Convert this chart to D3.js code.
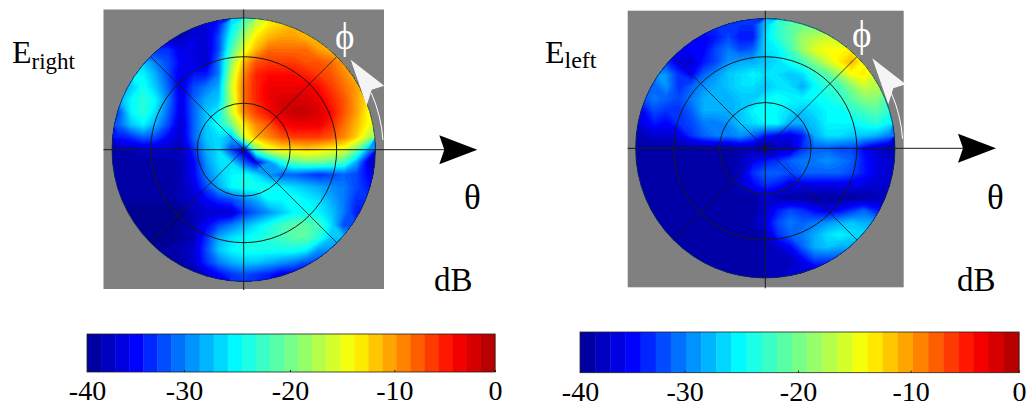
<!DOCTYPE html>
<html>
<head>
<meta charset="utf-8">
<script src="https://cdn.jsdelivr.net/npm/d3@7"></script>
<style>
  html, body { margin: 0; background: #fff; }
  svg { display: block; }
  text { font-family: "Liberation Serif", serif; fill: #000; }
</style>
</head>
<body>
<svg width="1026" height="407"></svg>
<script>
// measured levels in dB, one row per line from the top of the disc, 21 columns left to right
var rightField = [
	[-38,-38,-38,-38,-38,-38,-38,-36,-34,-26,-21,-16,-13,-12,-11,-11,-11,-11,-11,-11,-11],
	[-38,-38,-38,-38,-38,-38,-36,-37,-32,-24,-18,-13,-11,-10,-10,-11,-11,-11,-11,-11,-11],
	[-33,-33,-33,-33,-33,-36,-36,-37,-32,-22,-15,-11, -8, -8, -8, -8,-10,-11,-11,-11,-11],
	[-27,-27,-27,-30,-32,-35,-36,-37,-30,-19,-11, -7, -6, -6, -6, -7, -7, -8,-10,-10,-10],
	[-25,-25,-25,-28,-32,-36,-34,-34,-30,-17, -9, -5, -4, -4, -4, -5, -6, -7, -9,-11,-11],
	[-27,-27,-24,-27,-31,-36,-32,-30,-28,-16, -8, -5, -3, -3, -3, -3, -4, -6, -8,-10,-12],
	[-28,-25,-23,-25,-30,-36,-31,-28,-27,-17, -8, -5, -3, -2, -2, -2, -3, -5, -7,-10,-13],
	[-32,-25,-23,-26,-31,-36,-31,-27,-25,-16, -9, -6, -4, -2, -1, -1, -2, -4, -7,-10,-14],
	[-31,-27,-25,-28,-32,-37,-31,-27,-24,-20,-13, -9, -7, -4, -3, -3, -3, -5, -8,-11,-14],
	[-34,-33,-31,-32,-35,-37,-31,-27,-26,-28,-16,-11, -9, -7, -6, -6, -6, -7, -9,-12,-17],
	[-38,-38,-37,-37,-37,-38,-33,-28,-26,-32,-37,-20,-15,-13,-13,-12,-13,-14,-15,-20,-29],
	[-39,-39,-39,-39,-39,-38,-35,-29,-26,-26,-31,-35,-29,-24,-21,-20,-20,-21,-22,-28,-37],
	[-39,-39,-39,-39,-39,-38,-35,-30,-27,-25,-24,-26,-29,-31,-31,-32,-33,-32,-31,-32,-35],
	[-39,-39,-39,-39,-39,-38,-36,-32,-28,-25,-24,-24,-24,-25,-26,-27,-28,-29,-30,-32,-34],
	[-39,-39,-39,-39,-39,-38,-37,-35,-33,-32,-30,-28,-25,-25,-24,-25,-26,-28,-30,-33,-33],
	[-40,-40,-40,-40,-40,-40,-38,-37,-37,-37,-33,-31,-29,-27,-25,-24,-25,-27,-30,-34,-34],
	[-40,-40,-40,-40,-40,-39,-38,-35,-32,-30,-28,-26,-24,-22,-21,-21,-22,-26,-32,-32,-32],
	[-40,-40,-40,-40,-40,-39,-38,-33,-28,-26,-25,-24,-23,-22,-21,-21,-23,-27,-27,-27,-27],
	[-39,-39,-39,-39,-39,-38,-37,-32,-27,-25,-24,-24,-24,-24,-24,-25,-29,-29,-29,-29,-29],
	[-39,-39,-39,-39,-39,-39,-37,-33,-30,-28,-27,-27,-28,-29,-30,-32,-32,-32,-32,-32,-32],
	[-39,-39,-39,-39,-39,-39,-39,-37,-35,-33,-32,-33,-34,-36,-36,-36,-36,-36,-36,-36,-36]
];

var leftField = [
	[-33,-33,-33,-33,-33,-33,-33,-33,-33,-33,-27,-23,-21,-20,-20,-20,-20,-20,-20,-20,-20],
	[-35,-35,-35,-35,-35,-35,-34,-32,-34,-34,-26,-23,-21,-18,-17,-16,-16,-16,-16,-16,-16],
	[-35,-35,-35,-35,-35,-35,-32,-30,-32,-31,-26,-25,-22,-18,-15,-14,-14,-13,-13,-13,-13],
	[-33,-33,-33,-36,-37,-34,-32,-29,-28,-28,-27,-26,-24,-22,-19,-16,-13,-11,-14,-14,-14],
	[-29,-29,-29,-33,-35,-31,-29,-27,-26,-25,-26,-26,-27,-26,-23,-21,-18,-14,-13,-16,-16],
	[-31,-31,-29,-33,-31,-29,-28,-27,-26,-26,-27,-26,-26,-28,-25,-23,-22,-19,-16,-17,-18],
	[-32,-30,-31,-32,-30,-28,-28,-28,-27,-27,-25,-24,-25,-25,-25,-24,-23,-21,-19,-19,-22],
	[-35,-32,-33,-33,-31,-28,-28,-28,-27,-25,-25,-25,-26,-27,-26,-25,-25,-23,-22,-21,-23],
	[-36,-34,-35,-33,-32,-30,-30,-29,-27,-26,-25,-25,-28,-28,-27,-25,-25,-25,-24,-23,-25],
	[-38,-37,-37,-36,-33,-31,-30,-30,-29,-31,-34,-35,-36,-34,-28,-26,-26,-27,-27,-28,-30],
	[-39,-39,-39,-39,-39,-39,-39,-39,-38,-38,-40,-38,-38,-33,-31,-31,-32,-32,-35,-37,-38],
	[-39,-39,-39,-39,-39,-39,-39,-39,-38,-35,-34,-33,-31,-30,-30,-29,-30,-31,-34,-36,-37],
	[-39,-39,-39,-39,-39,-39,-39,-39,-37,-33,-31,-31,-32,-31,-31,-31,-31,-32,-34,-36,-37],
	[-39,-39,-39,-39,-39,-39,-39,-39,-37,-35,-33,-34,-36,-36,-36,-36,-36,-36,-36,-37,-37],
	[-39,-39,-39,-39,-39,-39,-39,-39,-39,-39,-37,-38,-39,-39,-39,-39,-39,-39,-39,-38,-38],
	[-39,-39,-39,-39,-39,-39,-39,-39,-39,-39,-37,-34,-32,-33,-35,-36,-35,-33,-31,-34,-34],
	[-39,-39,-39,-39,-39,-39,-39,-39,-39,-38,-36,-32,-30,-31,-30,-29,-28,-27,-28,-28,-28],
	[-39,-39,-39,-39,-39,-39,-39,-39,-39,-39,-38,-33,-31,-30,-28,-26,-25,-26,-26,-26,-26],
	[-39,-39,-39,-39,-39,-39,-39,-39,-39,-39,-38,-37,-35,-31,-28,-27,-28,-28,-28,-28,-28],
	[-39,-39,-39,-39,-39,-39,-39,-39,-39,-39,-38,-38,-38,-35,-32,-32,-32,-32,-32,-32,-32],
	[-39,-39,-39,-39,-39,-39,-39,-39,-39,-39,-38,-38,-37,-37,-37,-37,-37,-37,-37,-37,-37]
];

var barTicks = [-40, -30, -20, -10, 0];
var thetaRings = [30, 60];
var phiSpokes = [45, 135, 225, 315];

var jetLevels = [-40, -35, -25, -14, -4, 0];
var jetColors = ["#000090", "#0000ff", "#00ffff", "#ffff00", "#ff0000", "#a80000"];

var color = d3.scaleLinear().domain(jetLevels).range(jetColors).clamp(true);

var svg = d3.select("svg");
var defs = svg.append("defs");

drawPanel({
	id: "right", field: rightField, cx: 243.7, cy: 149.7, R: 131.7,
	box: [103.5, 9.5, 384, 289], arrowX: 477.3, phiX: 335
});
drawPanel({
	id: "left", field: leftField, cx: 765.3, cy: 148.3, R: 129.7,
	box: [627.7, 10.7, 903.7, 287.3], arrowX: 996, phiX: 852
});

drawBar([87, 184, 290, 394.3, 495], 334, 372);
drawBar([580, 684.7, 798, 910.7, 1019], 332, 372.7);

//subscripted field names
label(12, 63, "E", 32).append("tspan").attr("dy", 5.5).attr("font-size", 23).text("right");
label(545, 62.5, "E", 32).append("tspan").attr("dy", 5.5).attr("font-size", 24).text("left");

label(464, 208.5, "θ", 35);
label(987, 208.5, "θ", 35);
label(434, 291, "dB", 33);
label(957, 291, "dB", 33);

function label(x, y, str, size) {
	return svg.append("text").attr("x", x).attr("y", y).attr("font-size", size).text(str);
}

function drawPanel(p) {
	var g = svg.append("g");
	var cx = p.cx, cy = p.cy, R = p.R;

	//gray backing square
	g.append("rect")
		.attr("x", p.box[0]).attr("y", p.box[1])
		.attr("width", p.box[2] - p.box[0]).attr("height", p.box[3] - p.box[1])
		.attr("fill", "#808080");

	var clipId = "disc-" + p.id;
	defs.append("clipPath").attr("id", clipId)
		.append("circle").attr("cx", cx).attr("cy", cy).attr("r", R);

	//filled level sets of the grid, lowest first
	var contours = d3.contours()
		.size([21, 21])
		.thresholds(d3.range(-40, 0.5, 0.5))(p.field.flat());

	var px = d3.scaleLinear().domain([0, 21]).range([cx - R, cx + R]);
	var py = d3.scaleLinear().domain([0, 21]).range([cy - R, cy + R]);
	var path = d3.geoPath(d3.geoTransform({
		point: function(x, y) { this.stream.point(px(x), py(y)); }
	}));

	g.append("g").attr("clip-path", "url(#" + clipId + ")")
		.selectAll("path")
		.data(contours)
		.enter().append("path")
			.attr("d", path)
			.attr("fill", function(d) { return color(d.value); });

	//polar grid
	var theta = d3.scaleLinear().domain([0, 85]).range([0, R]);
	var ink = "#1a1a1a";

	g.selectAll(".ring")
		.data(thetaRings)
		.enter().append("circle")
			.attr("class", "ring")
			.attr("cx", cx).attr("cy", cy)
			.attr("r", function(d) { return theta(d); })
			.attr("fill", "none").attr("stroke", ink).attr("stroke-width", 1);

	g.append("circle")
		.attr("cx", cx).attr("cy", cy).attr("r", R)
		.attr("fill", "none").attr("stroke", "#0b2a55").attr("stroke-width", 0.8);

	g.selectAll(".spoke")
		.data(phiSpokes)
		.enter().append("line")
			.attr("class", "spoke")
			.attr("x1", cx).attr("y1", cy)
			.attr("x2", function(d) { return cx + theta(85) * Math.cos(d * Math.PI / 180); })
			.attr("y2", function(d) { return cy - theta(85) * Math.sin(d * Math.PI / 180); })
			.attr("stroke", ink).attr("stroke-width", 0.8);

	//vertical and horizontal axes run past the disc
	g.append("line")
		.attr("x1", cx).attr("x2", cx).attr("y1", p.box[1]).attr("y2", p.box[3] + 1)
		.attr("stroke", ink).attr("stroke-width", 1);
	g.append("line")
		.attr("x1", p.box[0]).attr("x2", p.arrowX - 30).attr("y1", cy).attr("y2", cy)
		.attr("stroke", ink).attr("stroke-width", 1);

	//theta arrow head
	var tip = p.arrowX;
	g.append("path")
		.attr("d", "M" + (tip - 38) + "," + (cy - 14.5) + "L" + tip + "," + cy +
			"L" + (tip - 38) + "," + (cy + 14.5) + "L" + (tip - 33) + "," + cy + "Z")
		.attr("fill", "#000");

	//phi sweep arrow in white
	var sweep = d3.arc()
		.innerRadius(R + 7.4).outerRadius(R + 8.4)
		.startAngle(66 * Math.PI / 180).endAngle(86 * Math.PI / 180);
	g.append("path")
		.attr("transform", "translate(" + cx + "," + cy + ")")
		.attr("d", sweep())
		.attr("fill", "#fff");
	g.append("path")
		.attr("transform", "translate(" + cx + "," + cy + ")")
		.attr("d", "M107,-90L140.5,-64L128,-60L123,-44Z")
		.attr("fill", "#f4f4f4");

	svg.append("text")
		.attr("x", p.phiX).attr("y", cy - 101)
		.attr("font-size", 37)
		.style("fill", "#fff")
		.text("ϕ");
}

function drawBar(stops, top, bottom) {
	var x = d3.scaleLinear().domain(barTicks).range(stops);
	var n = 29;
	var w = (stops[4] - stops[0]) / n;
	var g = svg.append("g");

	g.selectAll("rect")
		.data(d3.range(n))
		.enter().append("rect")
			.attr("x", function(i) { return stops[0] + i * w; })
			.attr("y", top)
			.attr("width", w + 0.4)
			.attr("height", bottom - top)
			.attr("fill", function(i) { return color(x.invert(stops[0] + (i + 0.5) * w)); });

	g.append("rect")
		.attr("x", stops[0]).attr("y", top)
		.attr("width", stops[4] - stops[0]).attr("height", bottom - top)
		.attr("fill", "none").attr("stroke", "#222").attr("stroke-width", 0.8);

	var axis = d3.axisBottom(x)
		.tickValues(barTicks)
		.tickSize(-2)
		.tickPadding(8)
		.tickFormat(function(d) { return String(d); });

	var ag = g.append("g").attr("transform", "translate(0," + bottom + ")").call(axis);
	ag.select(".domain").remove();
	ag.selectAll("line").attr("stroke", "#222");
	ag.selectAll("text")
		.attr("font-size", 28)
		.attr("font-family", "Liberation Serif")
		.style("fill", "#000");
}
</script>
</body>
</html>
